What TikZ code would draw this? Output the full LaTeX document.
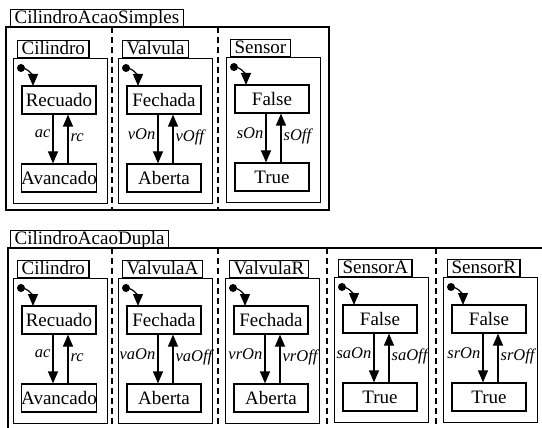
\documentclass[tikz,border=0pt]{standalone}
\usepackage{fontspec}
\setmainfont{Liberation Serif}
\usetikzlibrary{arrows.meta}

\tikzset{
  tab/.style={draw, anchor=south west, inner xsep=4pt, inner ysep=1pt, text height=13.5pt, text depth=1.5pt},
  frame/.style={draw, anchor=north west, inner sep=0pt, minimum width=94pt, minimum height=145pt},
  state/.style={draw, inner xsep=0pt, minimum width=74pt, minimum height=28pt},
  trans/.style={-{Triangle[length=12pt,width=10pt]}},
  event/.style={font=\fontsize{16.5}{18}\selectfont\itshape, inner sep=2pt},
  sep/.style={dash pattern=on 6pt off 4pt}
}

% one component: prefix, x, y, name, first state, second state, events
\newcommand{\machine}[8]{%
  \begin{scope}[shift={(#2,#3)}]
    \node[frame] (#1box) at (0,0) {};
    \node[tab] (#1tab) at (4,0) {#4};
    \coordinate (#1dot) at (8,10);
    \coordinate (#1in) at (20,28);
    \node[state] (#1first) at (46,42) {#5};
    \node[state] (#1second) at (46,120) {#6};
    \fill (#1dot) circle (4pt);
    \draw[trans] (#1dot) to[out=0,in=90] (#1in);
    \draw[trans] ([xshift=-6pt]#1first.south) -- node[event,left,pos=0.4] {#7} ([xshift=-6pt]#1second.north);
    \draw[trans] ([xshift=9pt]#1second.north) -- node[event,right,pos=0.53] {#8} ([xshift=9pt]#1first.south);
  \end{scope}}

\begin{document}
\begin{tikzpicture}[x=1pt, y=-1pt, line width=1.2pt, font=\fontsize{19}{22}\selectfont]
    \useasboundingbox (0,0) rectangle (542,428);
    \clip (0,0) rectangle (542,428);
    % simple acting cylinder
    \node[tab] (simplestab) at (10,27) {CilindroAcaoSimples};
    \draw (6,27) rectangle (329,210);
    \draw[sep] (112,27) -- (112,210);
    \draw[sep] (218,27) -- (218,210);
    \machine{sc}{13}{58}{Cilindro}{Recuado}{Avancado}{ac}{rc}
    \machine{sv}{118}{58}{Valvula}{Fechada}{Aberta}{vOn}{vOff}
    \machine{ss}{226}{57}{Sensor}{False}{True}{sOn}{sOff}
    % double acting cylinder
    \node[tab] (duplatab) at (10,248) {CilindroAcaoDupla};
    \draw (8,248) rectangle (560,440);
    \draw[sep] (112,248) -- (112,440);
    \draw[sep] (218,248) -- (218,440);
    \draw[sep] (327,248) -- (327,440);
    \draw[sep] (436,248) -- (436,440);
    \machine{dc}{13}{278}{Cilindro}{Recuado}{Avancado}{ac}{rc}
    \machine{dva}{118}{278}{ValvulaA}{Fechada}{Aberta}{vaOn}{vaOff}
    \machine{dvr}{225}{278}{ValvulaR}{Fechada}{Aberta}{vrOn}{vrOff}
    \machine{dsa}{334}{277}{SensorA}{False}{True}{saOn}{saOff}
    \machine{dsr}{443}{277}{SensorR}{False}{True}{srOn}{srOff}
\end{tikzpicture}
\end{document}
